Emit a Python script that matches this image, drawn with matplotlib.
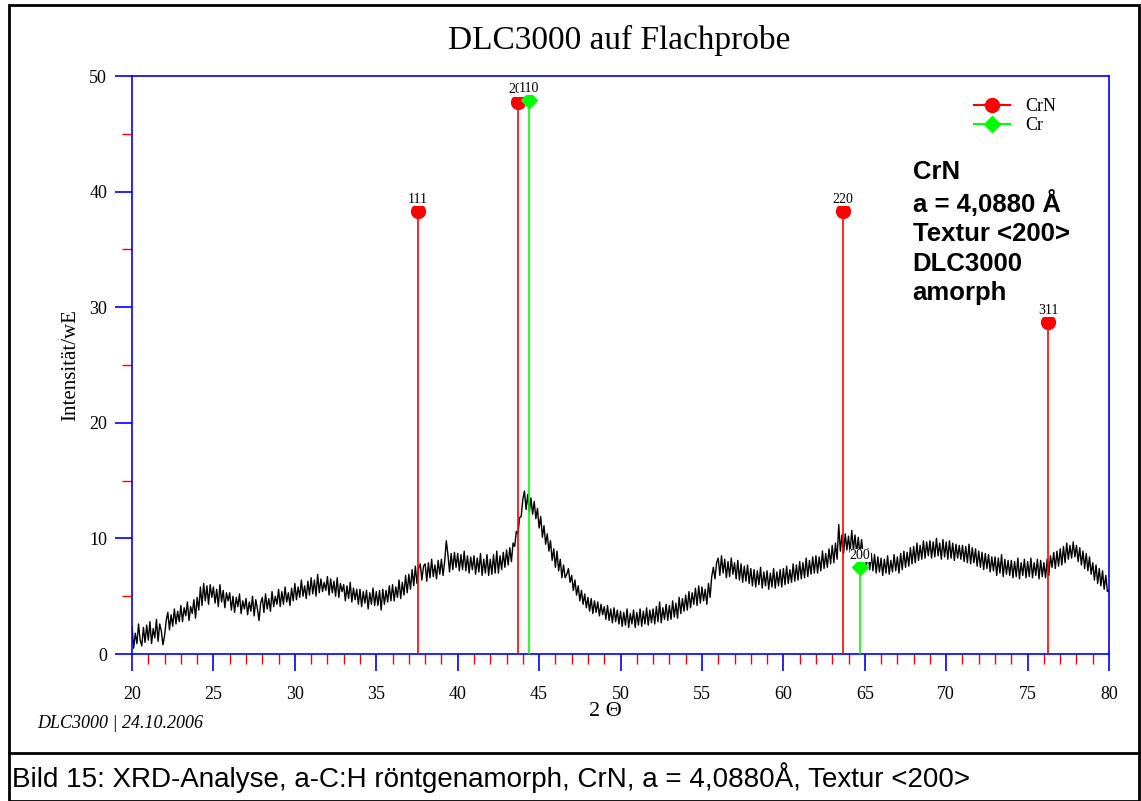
import matplotlib.pyplot as plt
import numpy as np
from matplotlib.lines import Line2D
from matplotlib.patches import Rectangle

plt.rcParams['font.family'] = ['Liberation Serif', 'DejaVu Serif']

# measured pattern, 0.1 deg steps from 20.0 to 80.0
two_theta_start = 20.0
two_theta_step = 0.1
intensity = [
    2.4, 0.5, 1.8, 0.9, 2.6, 1.2, 0.7, 2.3, 1.0, 2.5,
    1.2, 2.8, 0.9, 2.2, 1.4, 3.0, 1.1, 2.6, 2.0, 0.8,
    1.6, 2.9, 3.6, 2.1, 3.4, 2.4, 3.9, 2.6, 3.7, 2.8,
    4.2, 2.8, 4.0, 3.3, 4.5, 2.9, 4.1, 3.5, 4.7, 3.1,
    4.9, 3.8, 5.8, 4.2, 6.1, 4.6, 5.9, 4.3, 6.0, 4.9,
    5.8, 4.4, 5.6, 4.1, 6.0, 4.5, 5.5, 4.0, 5.3, 4.6,
    5.3, 3.8, 5.0, 3.6, 4.9, 4.1, 5.2, 3.5, 4.6, 3.9,
    4.8, 3.4, 4.5, 3.7, 5.0, 3.3, 4.7, 3.9, 2.9, 4.4,
    4.9, 3.6, 5.2, 3.9, 4.8, 3.7, 5.4, 4.1, 5.0, 4.3,
    5.6, 4.1, 5.4, 4.3, 5.8, 4.5, 5.3, 4.2, 5.7, 4.6,
    6.1, 4.7, 5.8, 4.9, 6.4, 5.0, 5.9, 4.8, 6.3, 5.1,
    6.6, 5.2, 6.4, 5.0, 6.9, 5.3, 6.5, 5.4, 6.2, 5.5,
    6.7, 5.1, 6.5, 5.3, 6.3, 5.0, 6.6, 4.9, 6.1, 5.4,
    6.0, 4.6, 5.9, 4.8, 6.2, 4.5, 5.7, 4.7, 5.6, 4.3,
    5.6, 4.1, 5.4, 4.4, 5.5, 3.9, 5.3, 4.3, 5.7, 4.2,
    5.4, 4.2, 5.5, 3.8, 5.6, 4.3, 5.5, 4.5, 5.9, 4.6,
    6.0, 4.6, 5.8, 4.9, 6.4, 4.8, 6.2, 5.1, 6.8, 5.3,
    6.9, 5.6, 7.3, 5.9, 7.6, 6.1, 7.4, 7.8, 6.4, 7.6,
    7.8, 6.3, 7.9, 6.6, 8.2, 6.7, 7.7, 6.5, 8.1, 6.9,
    8.2, 6.8, 8.0, 9.8, 8.6, 7.1, 8.7, 7.3, 8.8, 7.5,
    8.7, 7.2, 8.6, 7.3, 8.9, 7.2, 8.5, 7.0, 8.4, 7.3,
    8.5, 6.9, 8.3, 7.1, 8.7, 6.8, 8.2, 7.0, 8.6, 6.8,
    8.2, 6.9, 8.6, 7.0, 8.9, 7.0, 8.5, 7.3, 8.8, 7.5,
    9.0, 7.7, 9.2, 8.0, 9.6, 9.3, 10.6, 10.4, 11.8, 11.9,
    13.4, 14.1, 12.5, 13.8, 12.3, 13.5, 12.1, 13.2, 11.7, 12.6,
    10.9, 11.9, 10.1, 11.1, 9.5, 10.4, 8.9, 9.8, 8.1, 9.1,
    7.5, 8.9, 7.2, 8.2, 6.6, 7.7, 6.6, 6.9, 7.4, 6.2,
    6.8, 5.5, 6.4, 5.1, 5.9, 4.6, 5.5, 4.3, 5.2, 4.0,
    4.9, 3.7, 4.8, 3.5, 4.6, 3.6, 4.5, 3.3, 4.3, 3.4,
    4.1, 3.0, 4.2, 2.9, 3.9, 2.7, 4.0, 2.8, 3.8, 2.6,
    3.7, 2.4, 3.6, 2.5, 3.9, 2.3, 3.5, 2.6, 3.8, 2.3,
    3.6, 2.5, 3.9, 2.4, 3.7, 2.6, 4.0, 2.5, 3.8, 2.7,
    3.9, 2.6, 4.1, 2.8, 4.5, 2.7, 4.0, 3.0, 4.3, 2.9,
    4.2, 3.0, 4.6, 3.2, 4.4, 3.1, 4.9, 3.5, 4.8, 3.7,
    5.1, 3.8, 5.4, 4.0, 5.3, 4.3, 5.7, 4.2, 5.9, 4.4,
    5.8, 4.6, 5.6, 4.3, 6.1, 4.9, 6.7, 7.5, 6.5, 7.9,
    8.3, 6.8, 8.5, 7.0, 8.2, 6.6, 8.0, 6.7, 8.3, 6.9,
    7.9, 6.5, 8.1, 6.4, 7.8, 6.2, 7.6, 6.3, 7.7, 6.1,
    7.4, 5.9, 7.3, 5.8, 7.2, 6.0, 7.5, 5.7, 7.1, 5.9,
    7.2, 5.6, 7.0, 5.8, 7.4, 5.7, 7.1, 5.9, 7.3, 5.8,
    7.4, 6.0, 7.6, 6.1, 7.3, 6.2, 7.8, 6.3, 7.7, 6.4,
    8.0, 6.5, 7.9, 6.6, 8.3, 6.7, 8.1, 6.9, 8.4, 7.0,
    8.5, 7.0, 8.4, 7.2, 8.9, 7.4, 8.7, 7.5, 9.1, 7.8,
    9.4, 7.9, 9.6, 8.2, 11.2, 8.9, 10.3, 8.7, 10.4, 9.0,
    10.2, 8.8, 10.7, 9.0, 10.3, 8.7, 10.1, 8.5, 9.9, 8.6,
    9.0, 7.6, 9.1, 7.3, 8.7, 7.2, 8.6, 7.0, 8.4, 7.1,
    8.3, 6.8, 8.2, 7.0, 8.5, 6.9, 8.1, 7.1, 8.6, 7.2,
    8.4, 7.0, 8.7, 7.3, 8.9, 7.5, 8.8, 7.6, 9.2, 7.8,
    9.3, 7.9, 9.6, 8.1, 9.4, 8.2, 9.8, 8.3, 9.7, 8.5,
    9.8, 8.3, 9.7, 8.4, 10.0, 8.5, 9.6, 8.2, 9.9, 8.4,
    9.7, 8.2, 9.8, 8.3, 9.6, 8.1, 9.5, 8.3, 9.4, 8.2,
    9.4, 8.0, 9.3, 7.9, 9.5, 7.8, 9.2, 7.9, 9.1, 7.6,
    8.9, 7.5, 8.8, 7.3, 8.7, 7.4, 8.6, 7.1, 8.4, 7.2,
    8.4, 6.8, 8.3, 7.0, 8.6, 6.7, 8.2, 6.9, 8.1, 6.8,
    8.1, 6.6, 8.0, 6.7, 8.3, 6.5, 7.9, 6.8, 8.2, 6.6,
    8.0, 6.7, 8.3, 6.6, 7.9, 6.8, 8.2, 6.5, 8.1, 6.7,
    7.9, 6.6, 8.2, 6.8, 8.5, 7.5, 8.8, 7.4, 8.9, 7.6,
    9.1, 7.7, 9.3, 7.9, 9.6, 8.2, 9.4, 8.3, 9.7, 8.4,
    9.4, 8.0, 9.2, 7.7, 8.9, 7.4, 8.7, 7.2, 8.4, 6.9,
    7.9, 6.4, 7.7, 6.1, 7.4, 5.9, 7.2, 5.6, 6.8, 5.4,
    5.5,
]

# reference peaks
crn_pos = [37.55, 43.72, 63.65, 76.27]
crn_int = [38.3, 47.8, 38.3, 28.7]
crn_hkl = ['111', '200', '220', '311']
cr_pos = [44.39, 64.72]
cr_int = [47.9, 7.5]
cr_hkl = ['110', '200']

two_theta = two_theta_start + two_theta_step * np.arange(len(intensity))

fig = plt.figure(figsize=(11.41, 8.01), dpi=100)
ax = fig.add_axes([0.1157, 0.1835, 0.8563, 0.7215])

ax.plot(two_theta, intensity, color='black', lw=1.0, zorder=2)

lbl_box = dict(facecolor='white', edgecolor='none', pad=0.1)
ax.vlines(crn_pos, 0, crn_int, color='#ff0000', lw=1.2, zorder=3)
ax.plot(crn_pos, crn_int, 'o', color='#ff0000', ms=10, zorder=4)
for x, y, t in zip(crn_pos, crn_int, crn_hkl):
    ax.text(x, y + 1.0, t, ha='center', va='center', fontsize=10, bbox=lbl_box, zorder=5)

ax.vlines(cr_pos, 0, cr_int, color='#00ff00', lw=1.2, zorder=6)
ax.plot(cr_pos, cr_int, 'D', color='#00ff00', ms=8, zorder=7)
for x, y, t in zip(cr_pos, cr_int, cr_hkl):
    ax.text(x, y + 1.0, t, ha='center', va='center', fontsize=10, bbox=lbl_box, zorder=8)

ax.set_xlim(20, 80)
ax.set_ylim(0, 50)
ax.set_xticks(np.arange(20, 81, 5))
ax.set_xticks(np.arange(20, 81, 1), minor=True)
ax.set_yticks(np.arange(0, 51, 10))
ax.set_yticks(np.arange(5, 50, 10), minor=True)
ax.tick_params(which='major', direction='out', length=12, width=1.2, color='blue',
               labelsize=13, pad=11)
ax.tick_params(axis='y', which='major', pad=6)
ax.tick_params(which='minor', direction='out', length=7, width=1.0, color='red')
for s in ax.spines.values():
    s.set_color('blue')
    s.set_linewidth(1.2)

ax.set_xlabel('2 Θ', fontsize=16)
ax.xaxis.set_label_coords(0.484, -0.083)
ax.set_ylabel('Intensität/wE', fontsize=15, labelpad=6)
fig.text(619 / 1141, 1 - 40 / 801, 'DLC3000 auf Flachprobe', fontsize=24,
         ha='center', va='center')

handles = [Line2D([], [], color='#ff0000', marker='o', ms=10),
           Line2D([], [], color='#00ff00', marker='D', ms=8)]
ax.legend(handles, ['CrN', 'Cr'], loc='upper right', bbox_to_anchor=(0.962, 0.99),
          frameon=False, fontsize=13, handlelength=2.0, labelspacing=0.1,
          handletextpad=0.8)

ax.text(0.799, 0.855, 'CrN\na = 4,0880 Å\nTextur <200>\nDLC3000\namorph',
        transform=ax.transAxes, family=['Liberation Sans', 'DejaVu Sans'],
        fontsize=18.5, fontweight='bold', va='top', ha='left', linespacing=1.28)

fig.text(37 / 1141, 1 - 723 / 801, 'DLC3000 | 24.10.2006', fontsize=13,
         style='italic', va='center', ha='left')
fig.text(12 / 1141, 1 - 778 / 801,
         'Bild 15: XRD-Analyse, a-C:H röntgenamorph, CrN, a = 4,0880Å, Textur <200>',
         family=['Liberation Sans', 'DejaVu Sans'], fontsize=20, va='center', ha='left')

# outer frame and caption separator
fig.patches.append(Rectangle((9 / 1141, 0.0), 1130 / 1141, 1 - 5 / 801,
                             transform=fig.transFigure, fill=False,
                             edgecolor='black', lw=2))
fig.add_artist(Line2D([9 / 1141, 1.0], [1 - 753 / 801] * 2, transform=fig.transFigure,
                      color='black', lw=2))

fig.savefig('out.png', dpi=100)
